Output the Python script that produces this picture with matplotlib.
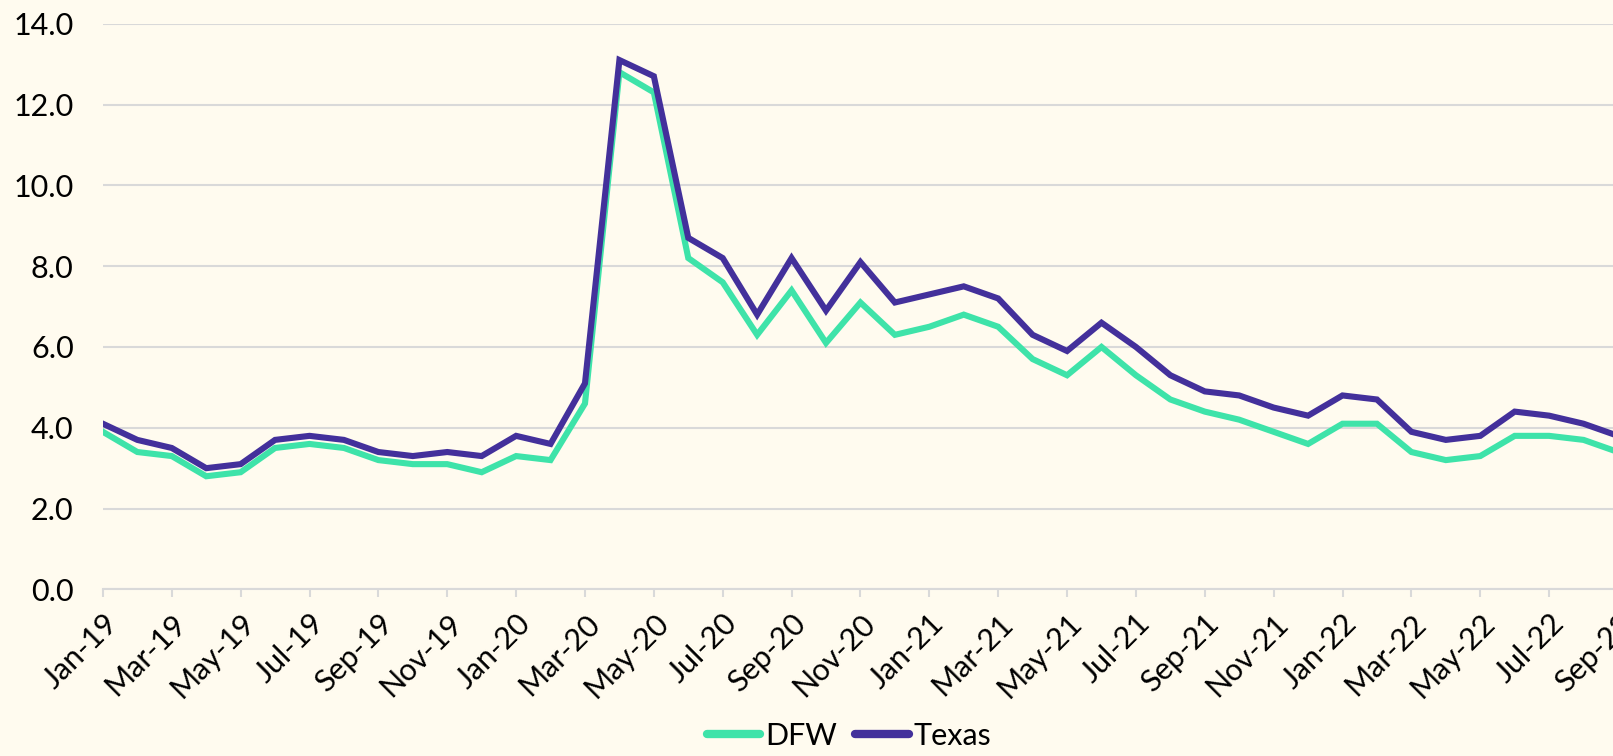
import matplotlib.pyplot as plt

plt.rcParams['font.family'] = ['Lato', 'DejaVu Sans']

# monthly values, Jan-19 .. Sep-22
months = ['Jan-19', 'Feb-19', 'Mar-19', 'Apr-19', 'May-19', 'Jun-19', 'Jul-19', 'Aug-19',
          'Sep-19', 'Oct-19', 'Nov-19', 'Dec-19',
          'Jan-20', 'Feb-20', 'Mar-20', 'Apr-20', 'May-20', 'Jun-20', 'Jul-20', 'Aug-20',
          'Sep-20', 'Oct-20', 'Nov-20', 'Dec-20',
          'Jan-21', 'Feb-21', 'Mar-21', 'Apr-21', 'May-21', 'Jun-21', 'Jul-21', 'Aug-21',
          'Sep-21', 'Oct-21', 'Nov-21', 'Dec-21',
          'Jan-22', 'Feb-22', 'Mar-22', 'Apr-22', 'May-22', 'Jun-22', 'Jul-22', 'Aug-22',
          'Sep-22']

dfw = [3.9, 3.4, 3.3, 2.8, 2.9, 3.5, 3.6, 3.5, 3.2, 3.1, 3.1, 2.9,
       3.3, 3.2, 4.6, 12.8, 12.3, 8.2, 7.6, 6.3, 7.4, 6.1, 7.1, 6.3,
       6.5, 6.8, 6.5, 5.7, 5.3, 6.0, 5.3, 4.7, 4.4, 4.2, 3.9, 3.6,
       4.1, 4.1, 3.4, 3.2, 3.3, 3.8, 3.8, 3.7, 3.4]

texas = [4.1, 3.7, 3.5, 3.0, 3.1, 3.7, 3.8, 3.7, 3.4, 3.3, 3.4, 3.3,
         3.8, 3.6, 5.1, 13.1, 12.7, 8.7, 8.2, 6.8, 8.2, 6.9, 8.1, 7.1,
         7.3, 7.5, 7.2, 6.3, 5.9, 6.6, 6.0, 5.3, 4.9, 4.8, 4.5, 4.3,
         4.8, 4.7, 3.9, 3.7, 3.8, 4.4, 4.3, 4.1, 3.8]

bg = '#FFFBEF'
W, H = 1613, 756

fig = plt.figure(figsize=(W / 100, H / 100), dpi=100, facecolor=bg)
# the chart is cut at the right: Sep-22 sits just past the picture's edge
left, right, bottom, top = 102.9, 1618.0, 589.4, 23.7
ax = fig.add_axes([left / W, 1 - bottom / H, (right - left) / W, (bottom - top) / H])
ax.set_facecolor(bg)

x = range(len(months))
ax.plot(x, dfw, color='#3EE3A9', lw=4.4, label='DFW', solid_joinstyle='miter')
ax.plot(x, texas, color='#43309B', lw=4.4, label='Texas', solid_joinstyle='miter')

ax.set_xlim(0, len(months) - 1)
ax.set_ylim(0, 14)
ax.set_yticks([0, 2, 4, 6, 8, 10, 12, 14])
ax.set_yticklabels([f'{v:.1f}' for v in ax.get_yticks()])
ax.set_xticks(list(x)[::2])
ax.set_xticklabels(months[::2], rotation=45, ha='right', rotation_mode='anchor')

ax.grid(axis='y', color='#D9D9D9', lw=1.5)
ax.set_axisbelow(True)
for s in ['left', 'right', 'top']:
    ax.spines[s].set_visible(False)
ax.spines['bottom'].set_color('#D9D9D9')
ax.spines['bottom'].set_linewidth(1.5)

ax.tick_params(axis='y', length=0, pad=21, labelsize=22, labelcolor='black')
ax.tick_params(axis='x', length=6, width=1.5, color='#D9D9D9', pad=8, labelsize=22)

leg = ax.legend(loc='center', bbox_to_anchor=(849 / W, 1 - 736 / H), bbox_transform=fig.transFigure,
                ncol=2, frameon=False, fontsize=22, handlelength=1.75, handletextpad=0.15,
                columnspacing=0.6)
for h in leg.get_lines():
    h.set_linewidth(6)
    h.set_solid_capstyle('round')

fig.savefig('out.png', dpi=100, facecolor=bg)
